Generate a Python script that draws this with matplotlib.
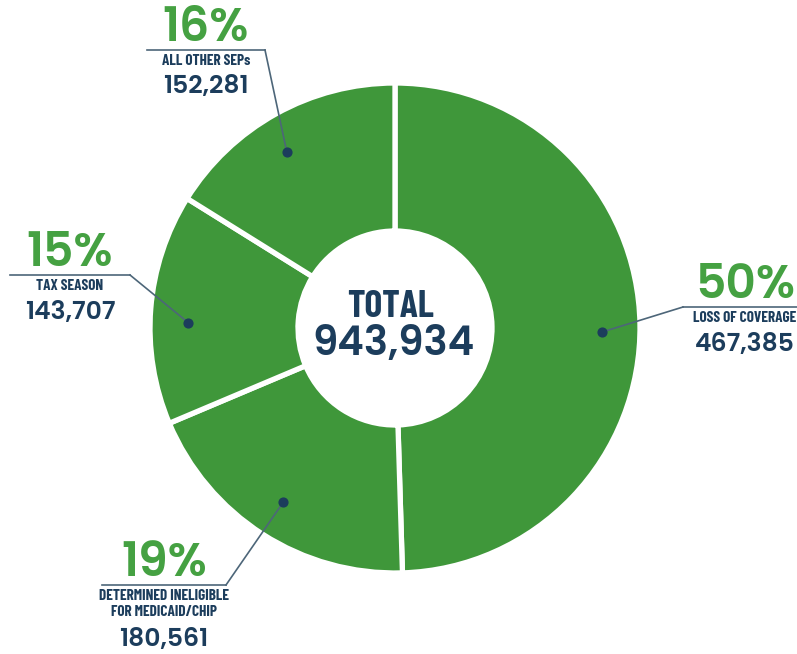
import numpy as np
import matplotlib
matplotlib.use("Agg")
import matplotlib.pyplot as plt

# chart data
categories = ["LOSS OF COVERAGE", "DETERMINED INELIGIBLE\nFOR MEDICAID/CHIP", "TAX SEASON", "ALL OTHER SEPs"]
counts = [467385, 180561, 143707, 152281]
percents = [50, 19, 15, 16]
total = 943934

GREEN = "#3f973a"
TEXT_GREEN = "#45a142"
NAVY = "#1c3d5c"
LINE = "#4d6679"
NARROW = ["Barlow Condensed", "DejaVu Sans"]
ROUND = ["Poppins", "DejaVu Sans"]

W, H = 797, 654
fig = plt.figure(figsize=(W / 100, H / 100), dpi=100)
ax = fig.add_axes([0, 0, 1, 1])
ax.axis("off")

cx, cy = 395, H - 328
r_out, r_in = 245, 97

wedges, _ = ax.pie(counts, center=(cx, cy), radius=r_out, startangle=90,
                   counterclock=False, colors=[GREEN] * 4,
                   wedgeprops=dict(width=r_out - r_in, edgecolor="white", linewidth=3.8))
ax.set_xlim(0, W)
ax.set_ylim(0, H)
ax.set_aspect("equal")

# label layout: text centre x, underline y (image px), underline x-range, elbow,
# small angle nudge for the dot
layout = [
    dict(tx=745, uy=307, ux=(683, W), elbow=(683, 307), nudge=-2),
    dict(tx=164, uy=585, ux=(102, 226), elbow=(226, 585), nudge=0),
    dict(tx=70, uy=275, ux=(10, 130), elbow=(130, 275), nudge=3),
    dict(tx=206, uy=50, ux=(147, 265), elbow=(265, 50), nudge=2.5),
]

for w, pct, cat, n, lay in zip(wedges, percents, categories, counts, layout):
    mid = np.deg2rad((w.theta1 + w.theta2) / 2 + lay["nudge"])
    dx, dy = cx + 207 * np.cos(mid), cy + 207 * np.sin(mid)
    ex, ey = lay["elbow"][0], H - lay["elbow"][1]
    uy = H - lay["uy"]
    ax.plot([dx, ex], [dy, ey], color=LINE, lw=1.2, zorder=3)
    ax.plot(lay["ux"], [uy, uy], color=LINE, lw=1.2, zorder=3)
    ax.scatter([dx], [dy], s=40, color=NAVY, zorder=4)

    tx = lay["tx"]
    ax.text(tx, uy + 9, f"{pct}%", ha="center", va="baseline", fontsize=34,
            fontweight="semibold", color=TEXT_GREEN, family=ROUND)
    nlines = cat.count("\n") + 1
    ax.text(tx, uy - 4, cat, ha="center", va="top", fontsize=11,
            fontweight="bold", color=NAVY, family=NARROW, linespacing=1.2)
    ny = uy - 4 - 17.5 * nlines - 4
    ax.text(tx, ny, f"{n:,}", ha="center", va="top", fontsize=18,
            fontweight="semibold", color=NAVY, family=ROUND)

ax.text(cx - 4, H - 307, "TOTAL", ha="center", va="center", fontsize=27,
        fontweight="bold", color=NAVY, family=NARROW)
ax.text(cx - 1, H - 345, f"{total:,}", ha="center", va="center", fontsize=29,
        fontweight="semibold", color=NAVY, family=ROUND)

fig.savefig("out.png", dpi=100, facecolor="white")
